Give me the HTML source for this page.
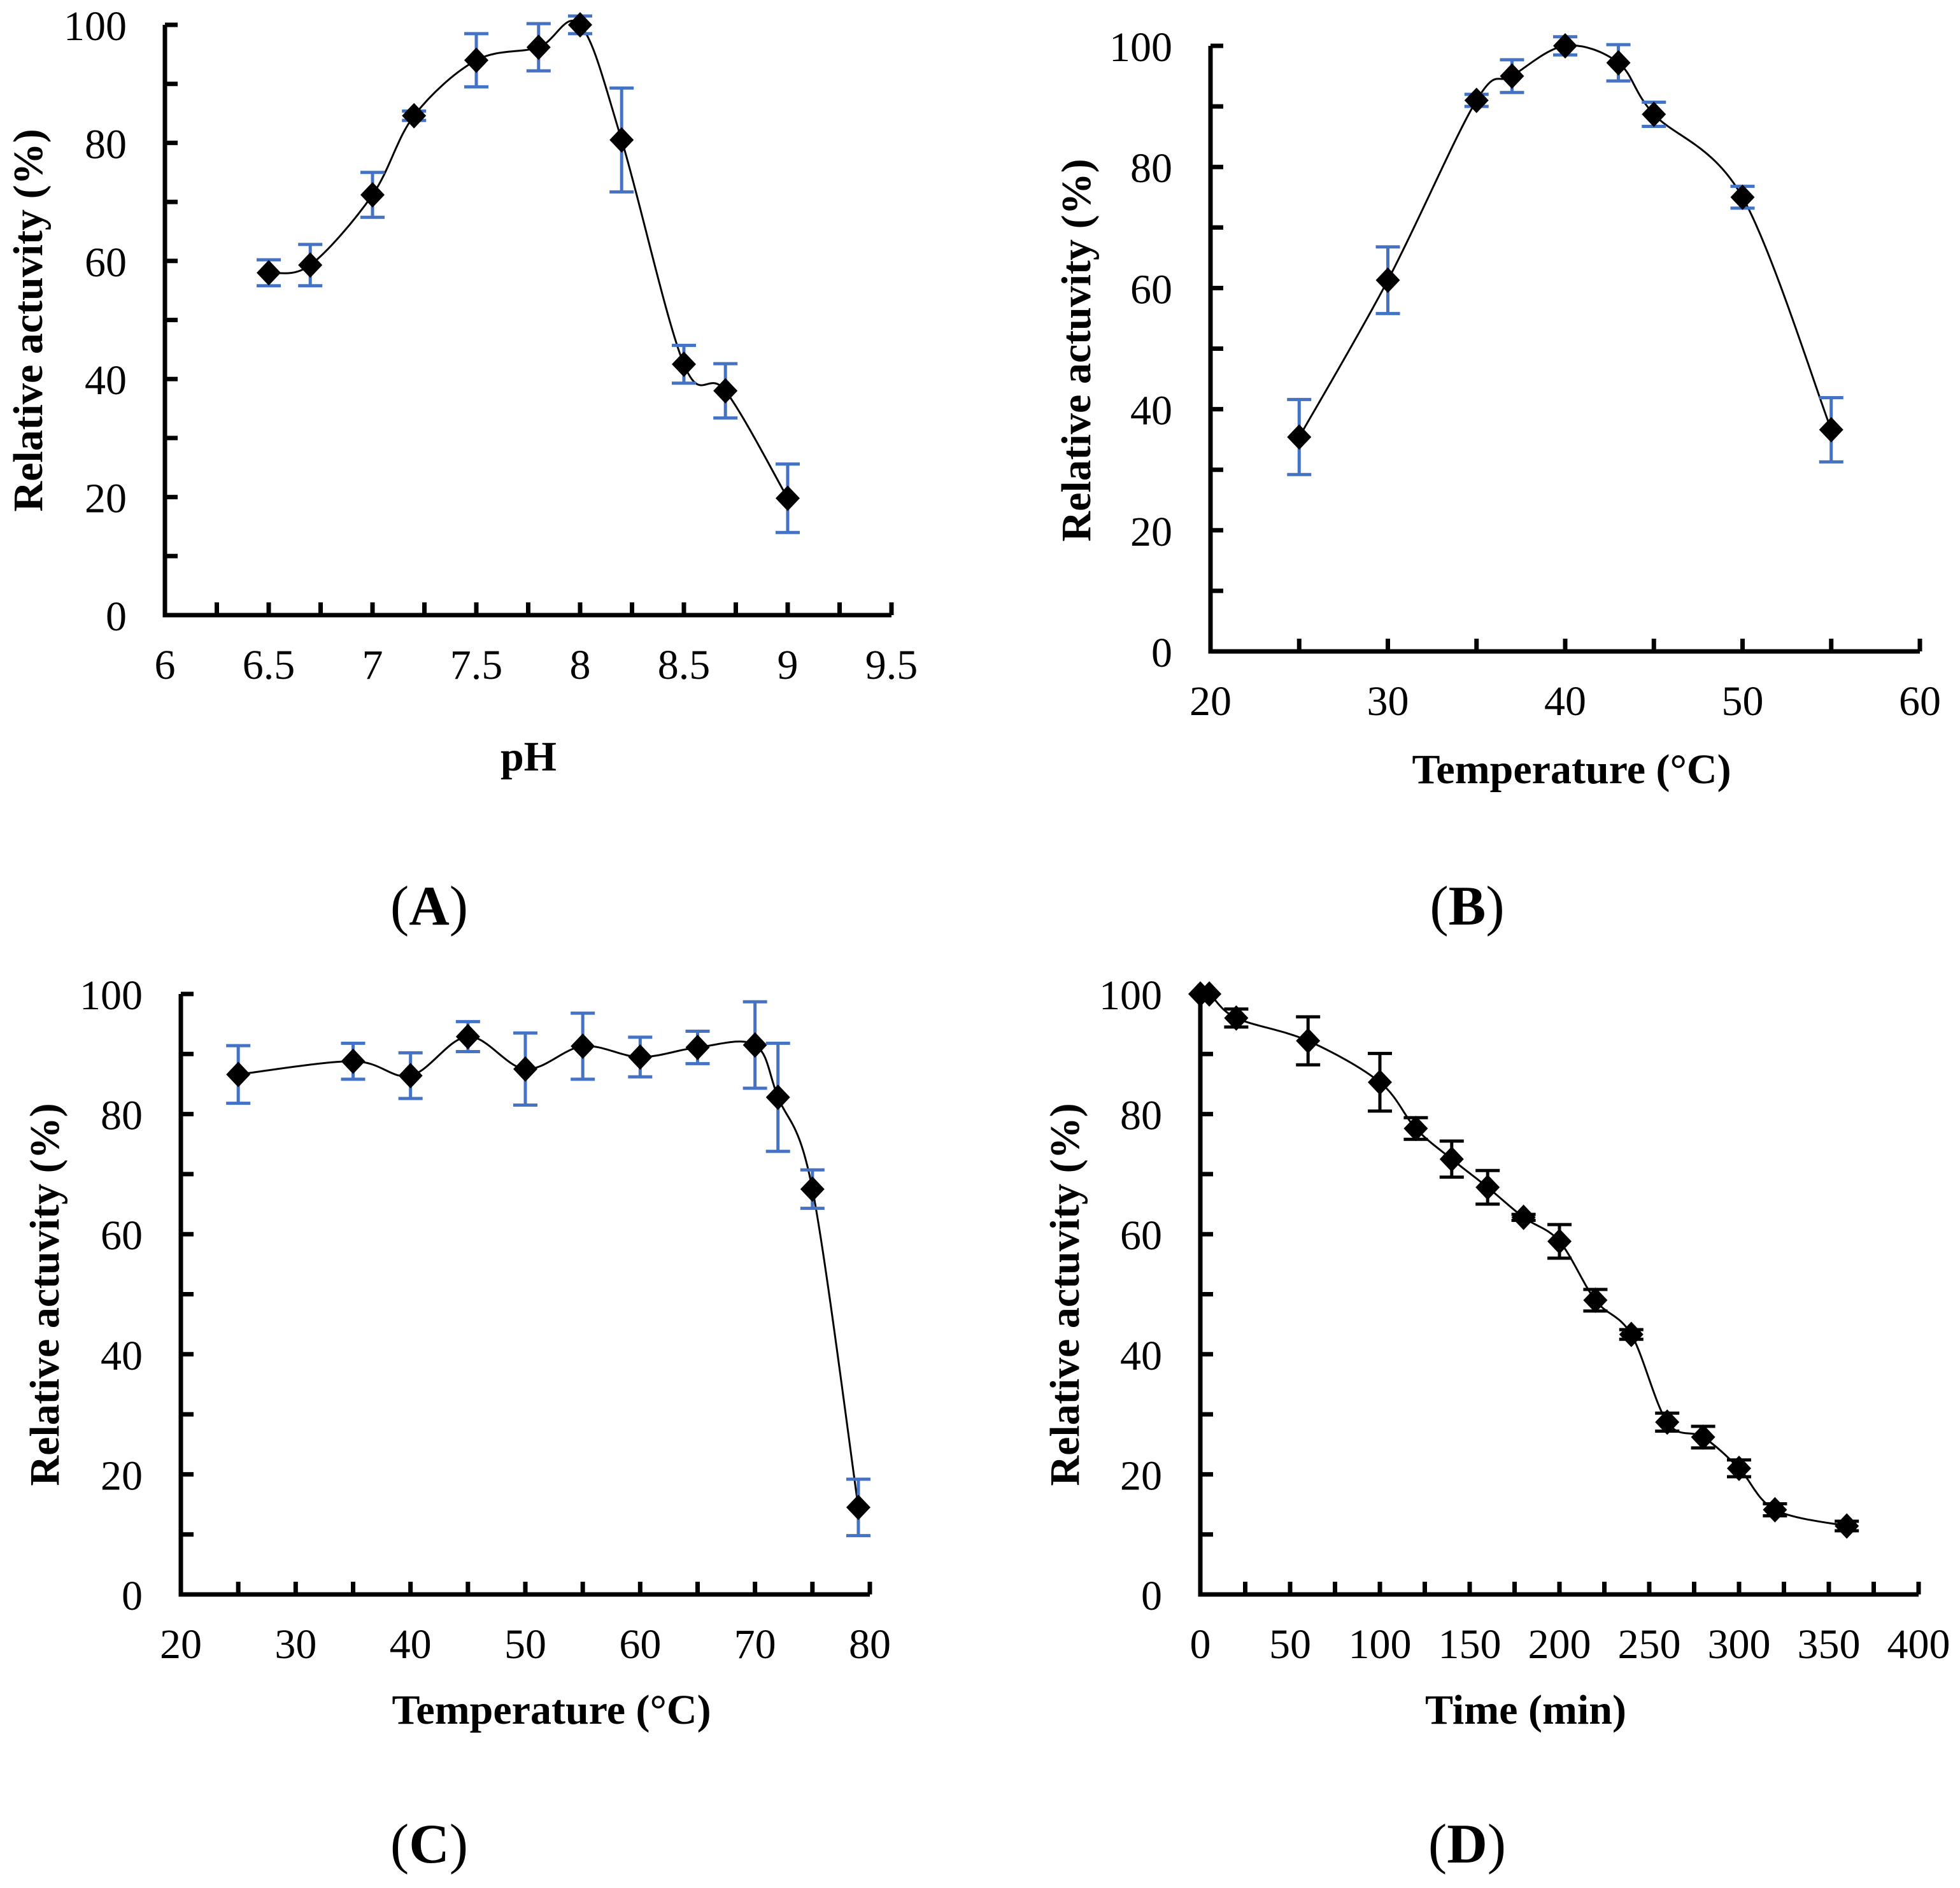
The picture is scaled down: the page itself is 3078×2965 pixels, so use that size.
<!DOCTYPE html>
<html><head><meta charset="utf-8"><style>
html,body{margin:0;padding:0;background:#fff;}
svg{display:block;}
text{font-family:"Liberation Serif",serif;fill:#000;}
</style></head><body>
<svg id="fig" width="3078" height="2965" viewBox="0 0 3078 2965" xmlns="http://www.w3.org/2000/svg"></svg>
<script>
// Panel A: pH
const phValues = [6.5, 6.7, 7, 7.2, 7.5, 7.8, 8, 8.2, 8.5, 8.7, 9];
const phActivity = [58, 59.3, 71.2, 84.6, 94, 96.2, 100, 80.5, 42.5, 38, 19.8];
const phError = [2.2, 3.5, 3.8, 0.8, 4.5, 4, 1.5, 8.8, 3.2, 4.6, 5.8];
const phTicks = ["6", "6.5", "7", "7.5", "8", "8.5", "9", "9.5"];
// Panel B: temperature optimum
const tempBValues = [25, 30, 35, 37, 40, 43, 45, 50, 55];
const tempBActivity = [35.4, 61.3, 91, 95, 100, 97.2, 88.7, 75, 36.6];
const tempBError = [6.2, 5.5, 1, 2.7, 1.5, 3, 2, 1.8, 5.3];
const tempBTicks = ["20", "30", "40", "50", "60"];
// Panel C: thermal stability
const tempCValues = [25, 35, 40, 45, 50, 55, 60, 65, 70, 72, 75, 79];
const tempCActivity = [86.6, 88.8, 86.4, 92.9, 87.5, 91.3, 89.5, 91.1, 91.5, 82.8, 67.5, 14.5];
const tempCError = [4.8, 3, 3.8, 2.5, 6, 5.5, 3.3, 2.7, 7.2, 9, 3.2, 4.7];
const tempCTicks = ["20", "30", "40", "50", "60", "70", "80"];
// Panel D: time course
const timeValues = [0, 5, 20, 60, 100, 120, 140, 160, 180, 200, 220, 240, 260, 280, 300, 320, 360];
const timeActivity = [100, 100, 96, 92.2, 85.3, 77.6, 72.5, 67.8, 62.8, 58.8, 49, 43.3, 28.7, 26.2, 21, 14.1, 11.4];
const timeError = [0, 0, 1.5, 4, 4.8, 1.8, 3, 2.8, 0.5, 2.8, 1.8, 0.8, 1.5, 1.8, 1.4, 1, 0.8];
const timeTicks = ["0", "50", "100", "150", "200", "250", "300", "350", "400"];
const yTicks = ["0", "20", "40", "60", "80", "100"];

const NS = "http://www.w3.org/2000/svg";
const svg = document.getElementById("fig");
function mk(tag, attrs, parent) {
  const e = document.createElementNS(NS, tag);
  for (const k in attrs) e.setAttribute(k, attrs[k]);
  (parent || svg).appendChild(e);
  return e;
}
function smoothPath(pts) {
  let d = "M" + pts[0][0] + "," + pts[0][1];
  for (let i = 0; i < pts.length - 1; i++) {
    const p0 = pts[Math.max(0, i - 1)], p1 = pts[i], p2 = pts[i + 1], p3 = pts[Math.min(pts.length - 1, i + 2)];
    const t = 0.5 / 3 * 2;
    const c1x = p1[0] + (p2[0] - p0[0]) * t / 2, c1y = p1[1] + (p2[1] - p0[1]) * t / 2;
    const c2x = p2[0] - (p3[0] - p1[0]) * t / 2, c2y = p2[1] - (p3[1] - p1[1]) * t / 2;
    d += " C" + c1x + "," + c1y + " " + c2x + "," + c2y + " " + p2[0] + "," + p2[1];
  }
  return d;
}
function panel(cfg) {
  const g = mk("g", {});
  
  
  const xs = v => cfg.x0 + (v - cfg.xmin) / (cfg.xmax - cfg.xmin) * (cfg.x1 - cfg.x0);
  const ys = v => cfg.y0 - v / 100 * (cfg.y0 - cfg.y1);
  const nx = cfg.xTicks.length - 1;
  for (let i = 0; i <= nx * 2; i++) {
    const v = cfg.xmin + (cfg.xmax - cfg.xmin) * i / (nx * 2);
    const X = xs(v);
    const t = mk("line", {x1: X, x2: X, y1: cfg.y0, y2: cfg.y0 - 20, stroke: "#000", "stroke-width": 7}, g);
    
    
  }
  for (let i = 0; i <= 10; i++) {
    const Y = ys(i * 10);
    const t = mk("line", {x1: cfg.x0, x2: cfg.x0 + 20, y1: Y, y2: Y, stroke: "#000", "stroke-width": 7}, g);
    
    
  }
  cfg.xTicks.forEach((lab, i) => {
    const v = cfg.xmin + (cfg.xmax - cfg.xmin) * i / nx;
    const t = mk("text", {x: xs(v), y: cfg.y0 + 100, "font-size": 66, "text-anchor": "middle"}, g);
    t.textContent = lab;
    
    
  });
  yTicks.forEach(lab => {
    const t = mk("text", {x: cfg.x0 - 60, y: ys(+lab) + 24, "font-size": 66, "text-anchor": "end"}, g);
    t.textContent = lab;
    
    
  });
  const ax = mk("path", {d: "M" + cfg.x0 + "," + cfg.y1 + " L" + cfg.x0 + "," + cfg.y0 + " L" + cfg.x1 + "," + cfg.y0, stroke: "#000", "stroke-width": 7, fill: "none"}, g);
  
  
  const yt = mk("text", {x: 0, y: 0, "font-size": 66, "font-weight": "bold", "text-anchor": "middle", transform: "translate(" + (cfg.ytx) + "," + cfg.yty + ") rotate(-90)"}, g);
  yt.textContent = "Relative actuvity (%)";
  
  
  const xt = mk("text", {x: cfg.xtx, y: cfg.xty, "font-size": 66, "font-weight": "bold", "text-anchor": "middle"}, g);
  xt.textContent = cfg.xTitle;
  
  
  const pl = mk("text", {x: cfg.plx, y: cfg.ply, "font-size": 88, "text-anchor": "middle"}, g);
  pl.innerHTML = '(<tspan font-weight="bold">' + cfg.letter + '</tspan>)';
  
  
  const pts = cfg.xv.map((v, i) => [xs(v), ys(cfg.yv[i])]);
  const c = mk("path", {d: smoothPath(pts), stroke: "#000", "stroke-width": 3, fill: "none"}, g);
  
  
  cfg.xv.forEach((v, i) => {
    const X = xs(v), Y = ys(cfg.yv[i]);
    const e = cfg.err[i];
    if (e > 0) {
      const top = ys(cfg.yv[i] + e), bot = ys(cfg.yv[i] - e);
      const eb = mk("path", {d: "M" + X + "," + top + " L" + X + "," + bot + " M" + (X - 19) + "," + top + " L" + (X + 19) + "," + top + " M" + (X - 19) + "," + bot + " L" + (X + 19) + "," + bot, stroke: cfg.errColor, "stroke-width": 5, fill: "none"}, g);
      
      
    }
    const m = mk("path", {d: "M" + X + "," + (Y - 20) + " L" + (X + 19) + "," + Y + " L" + X + "," + (Y + 20) + " L" + (X - 19) + "," + Y + "Z", fill: "#000"}, g);
    
    
  });
}
panel({name: "panel-a-ph", x0: 259, x1: 1400, y0: 966, y1: 39, xmin: 6, xmax: 9.5, xTicks: phTicks, xv: phValues, yv: phActivity, err: phError, errColor: "#4472c4", xTitle: "pH", xtx: 830, xty: 1210, ytx: 66, yty: 503, plx: 674, ply: 1452, letter: "A"});
panel({name: "panel-b-temperature", x0: 1901, x1: 3015, y0: 1023, y1: 72, xmin: 20, xmax: 60, xTicks: tempBTicks, xv: tempBValues, yv: tempBActivity, err: tempBError, errColor: "#4472c4", xTitle: "Temperature (\u00B0C)", xtx: 2468, xty: 1230, ytx: 1712, yty: 550, plx: 2304, ply: 1452, letter: "B"});
panel({name: "panel-c-thermostability", x0: 284, x1: 1366, y0: 2504, y1: 1561, xmin: 20, xmax: 80, xTicks: tempCTicks, xv: tempCValues, yv: tempCActivity, err: tempCError, errColor: "#4472c4", xTitle: "Temperature (\u00B0C)", xtx: 866, xty: 2707, ytx: 92, yty: 2033, plx: 674, ply: 2925, letter: "C"});
panel({name: "panel-d-time", x0: 1885, x1: 3013, y0: 2504, y1: 1561, xmin: 0, xmax: 400, xTicks: timeTicks, xv: timeValues, yv: timeActivity, err: timeError, errColor: "#000", xTitle: "Time (min)", xtx: 2396, xty: 2707, ytx: 1694, yty: 2033, plx: 2304, ply: 2925, letter: "D"});
</script>
</body></html>
